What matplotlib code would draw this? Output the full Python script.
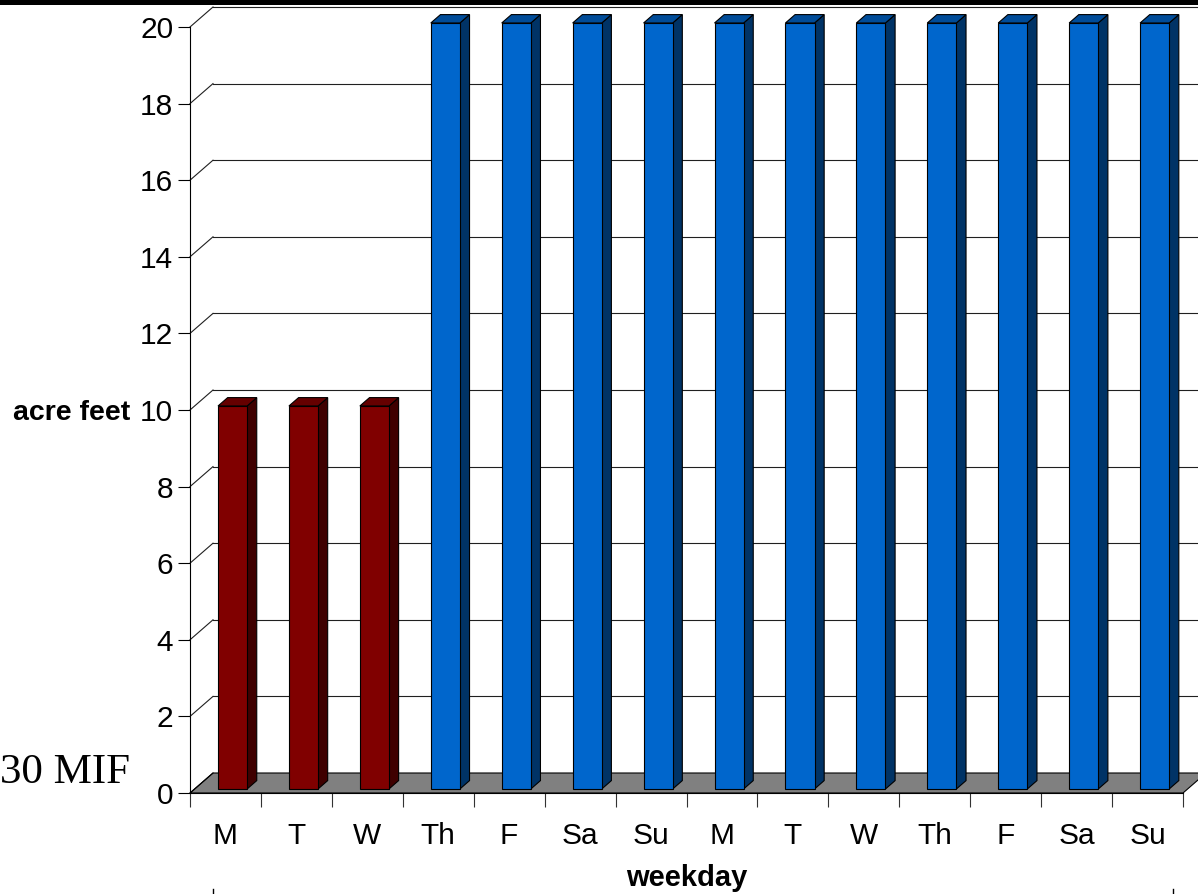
import matplotlib
matplotlib.use("Agg")
import matplotlib.pyplot as plt
from matplotlib.patches import Polygon, Rectangle
from matplotlib.lines import Line2D

# weekly release schedule, acre feet per day
days = ["M", "T", "W", "Th", "F", "Sa", "Su", "M", "T", "W", "Th", "F", "Sa", "Su"]
values = [10, 10, 10, 20, 20, 20, 20, 20, 20, 20, 20, 20, 20, 20]
bar_group = ["red", "red", "red"] + ["blue"] * 11

palette = {
    "red": {"front": "#800000", "side": "#3f0000", "top": "#650000"},
    "blue": {"front": "#0066cc", "side": "#003366", "top": "#004c99"},
}

W, H, DPI = 1198, 894, 100
SANS = ["Liberation Sans Narrow", "Liberation Sans", "DejaVu Sans"]

fig = plt.figure(figsize=(W / DPI, H / DPI), dpi=DPI)
ax_l, ax_r, ax_t, ax_b = 190, 1183, 27, 793
ax = fig.add_axes([ax_l / W, (H - ax_b) / H, (ax_r - ax_l) / W, (ax_b - ax_t) / H])
ax.set_xlim(0, len(days))
ax.set_ylim(0, 20)

# pixel depth of the floor/back wall, turned into data units
px_x = (ax_r - ax_l) / len(days)
px_y = (ax_b - ax_t) / 20.0
DX = 23 / px_x
DY = 20 / px_y


def shift(x, y, frac):
    return (x + DX * frac, y + DY * frac)


# floor
floor = Polygon([(0, 0), (len(days), 0), shift(len(days), 0, 1), shift(0, 0, 1)],
                closed=True, facecolor="#808080", edgecolor="black", lw=0.8,
                clip_on=False, zorder=1)
ax.add_patch(floor)

# back wall grid lines with the left-wall diagonals
for v in range(2, 21, 2):
    x0, y0 = shift(0, v, 1)
    x1, y1 = shift(len(days) + 1, v, 1)
    ax.plot([0, x0], [v, y0], color="#202020", lw=0.8, clip_on=False, zorder=0.5)
    ax.plot([x0, x1], [y0, y1], color="#202020", lw=0.8, clip_on=False, zorder=0.5)
ax.plot([0, DX], [0, DY], color="black", lw=0.8, clip_on=False, zorder=1.2)

# 3d-looking bars
b0, b1 = 0.33, 0.74      # bar span inside a category
f0, f1 = 0.2, 0.62       # front/back depth fractions
for i, (v, g) in enumerate(zip(values, bar_group)):
    c = palette[g]
    xl, xr = i + b0, i + b1
    fl = shift(xl, 0, f0)
    fr = shift(xr, 0, f0)
    tl = shift(xl, v, f0)
    tr = shift(xr, v, f0)
    br_top = shift(xr, v, f1)
    bl_top = shift(xl, v, f1)
    br_bot = shift(xr, 0, f1)
    kw = dict(closed=True, edgecolor="black", lw=0.8, clip_on=False, zorder=3)
    ax.add_patch(Polygon([fr, tr, br_top, br_bot], facecolor=c["side"], **kw))
    ax.add_patch(Polygon([tl, tr, br_top, bl_top], facecolor=c["top"], **kw))
    ax.add_patch(Polygon([fl, fr, tr, tl], facecolor=c["front"], **kw))

for s in ["top", "right"]:
    ax.spines[s].set_visible(False)
ax.spines["left"].set_color("black")
ax.spines["bottom"].set_color("black")
ax.spines["left"].set_linewidth(0.8)
ax.spines["bottom"].set_linewidth(0.8)
ax.spines["left"].set_zorder(5)
ax.spines["bottom"].set_zorder(5)
ax.set_facecolor("none")

ax.set_yticks(range(0, 21, 2))
ax.tick_params(axis="y", direction="out", length=8.6, width=0.8, color="black", pad=3.5,
               labelsize=21.5)
ax.set_xticks(range(0, len(days) + 1))
ax.set_xticklabels([])
ax.tick_params(axis="x", which="major", direction="out", length=10, width=0.8, color="#333333")
ax.set_xticks([i + 0.5 for i in range(len(days))], minor=True)
ax.set_xticklabels(days, minor=True)
ax.tick_params(axis="x", which="minor", length=0, pad=21, labelsize=21.5)
for lab in ax.get_xticklabels(minor=True) + ax.get_yticklabels():
    lab.set_family(SANS)

ax.set_ylabel("acre feet", rotation=0, fontsize=20.5, fontweight="bold", family=SANS,
              ha="right", va="center")
ax.yaxis.set_label_coords(-0.0604, 0.496)
ax.set_xlabel("weekday", fontsize=21, fontweight="bold", family=SANS, va="center")
ax.xaxis.set_label_coords(0.5, -0.111)

fig.text(0.0, (H - 783) / H, "30 MIF", fontsize=31, family=["Liberation Serif", "DejaVu Serif"],
         ha="left", va="baseline")

# black band along the top edge and stray marks at the bottom
fig.patches.append(Rectangle((0, 1 - 5 / H), 1, 5 / H, transform=fig.transFigure,
                             facecolor="black", edgecolor="none"))
for xm in (213, 1173):
    fig.lines.append(Line2D([xm / W, xm / W], [0, 5 / H], transform=fig.transFigure,
                            color="black", lw=1))

fig.savefig("out.png", dpi=DPI)
